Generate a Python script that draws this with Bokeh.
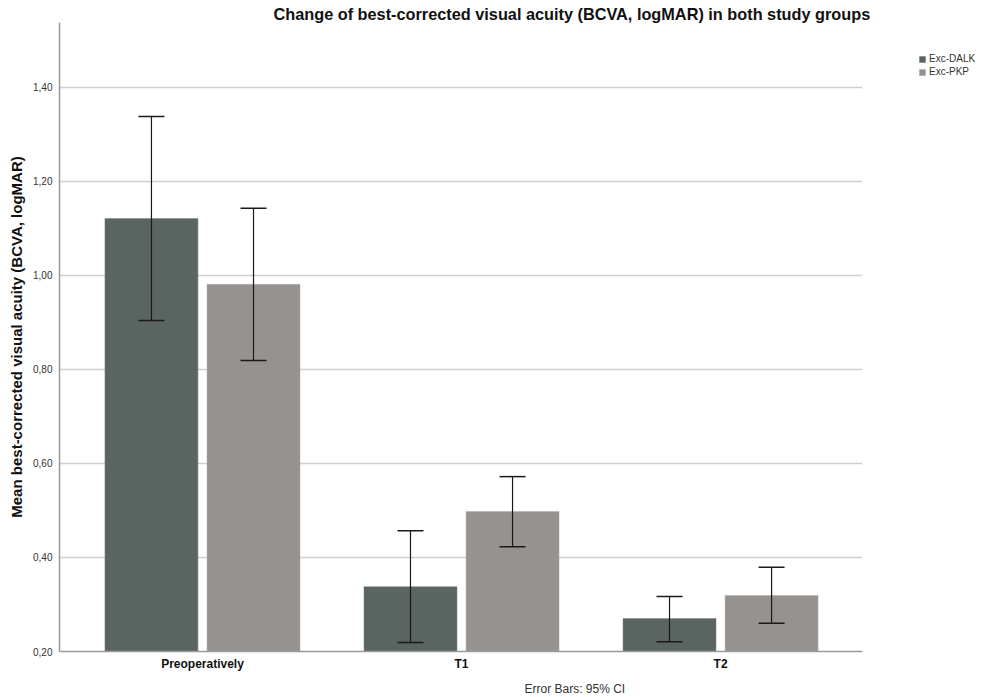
from bokeh.plotting import figure
from bokeh.layouts import row
from bokeh.models import (ColumnDataSource, Whisker, TeeHead, FixedTicker, CustomJSTickFormatter,
                          Legend, LegendItem, Title, Range1d)
from bokeh.embed import file_html
from bokeh.resources import INLINE

categories = ["Preoperatively", "T1", "T2"]
groups = ["Exc-DALK", "Exc-PKP"]
dalk_mean = [1.121, 0.338, 0.270]
dalk_lower = [0.904, 0.219, 0.221]
dalk_upper = [1.338, 0.457, 0.317]
pkp_mean = [0.981, 0.498, 0.319]
pkp_lower = [0.819, 0.423, 0.260]
pkp_upper = [1.143, 0.572, 0.379]
y_ticks = [0.2, 0.4, 0.6, 0.8, 1.0, 1.2, 1.4]

dalk_color = "#5a6460"
pkp_color = "#96928f"
FONT = "Liberation Sans"

p = figure(frame_width=803, frame_height=629, output_backend="svg", toolbar_location=None,
           x_range=Range1d(-0.552, 2.548), y_range=Range1d(0.2, 1.538),
           min_border_left=59, min_border_right=15, min_border_top=22, min_border_bottom=46)
p.outline_line_color = None
p.background_fill_color = "white"
p.title = None

idx = list(range(len(categories)))
off = 0.197
bw = 0.359
src_d = ColumnDataSource(dict(x=[i - off for i in idx], top=dalk_mean, lo=dalk_lower, hi=dalk_upper))
src_p = ColumnDataSource(dict(x=[i + off for i in idx], top=pkp_mean, lo=pkp_lower, hi=pkp_upper))

p.vbar(x="x", top="top", bottom=0.2, width=bw, source=src_d, fill_color=dalk_color,
       line_color="#7a827e", line_width=0.5)
p.vbar(x="x", top="top", bottom=0.2, width=bw, source=src_p, fill_color=pkp_color,
       line_color="#b0acaa", line_width=0.5)

for s in (src_d, src_p):
    w = Whisker(base="x", lower="lo", upper="hi", source=s, line_color="#1a1a1a", line_width=1.2,
                upper_head=TeeHead(size=26, line_color="#1a1a1a", line_width=1.5),
                lower_head=TeeHead(size=26, line_color="#1a1a1a", line_width=1.5),
                level="overlay")
    p.add_layout(w)

# axes
p.xaxis.ticker = FixedTicker(ticks=idx)
p.xaxis.major_label_overrides = {i: c for i, c in zip(idx, categories)}
p.xaxis.major_label_text_font = FONT
p.xaxis.major_label_text_font_style = "bold"
p.xaxis.major_label_text_font_size = "12px"
p.xaxis.major_label_text_color = "#111111"
p.xaxis.major_tick_line_color = None
p.xaxis.major_tick_out = 0
p.xaxis.major_tick_in = 0
p.xaxis.minor_tick_line_color = None
p.xaxis.minor_tick_out = 0
p.xaxis.axis_line_color = "#9a9a9a"
p.xaxis.axis_line_width = 1.5
p.xaxis.major_label_standoff = 5
p.xgrid.grid_line_color = None

p.yaxis.ticker = FixedTicker(ticks=y_ticks)
p.yaxis.formatter = CustomJSTickFormatter(code="return tick.toFixed(2).replace('.', ',');")
p.yaxis.major_label_text_font = FONT
p.yaxis.major_label_text_font_size = "10px"
p.yaxis.major_label_text_color = "#333333"
p.yaxis.major_tick_line_color = None
p.yaxis.major_tick_out = 0
p.yaxis.major_tick_in = 0
p.yaxis.minor_tick_line_color = None
p.yaxis.minor_tick_out = 0
p.yaxis.axis_line_color = "#9a9a9a"
p.yaxis.axis_line_width = 1.5
p.yaxis.major_label_standoff = 7
p.yaxis.axis_label = "Mean best-corrected visual acuity (BCVA, logMAR)"
p.yaxis.axis_label_text_font = FONT
p.yaxis.axis_label_text_font_style = "bold"
p.yaxis.axis_label_text_font_size = "15px"
p.yaxis.axis_label_text_color = "#111111"
p.yaxis.axis_label_standoff = 5
p.ygrid.grid_line_color = "#cfcfcf"
p.ygrid.grid_line_width = 1.5

# title (above) and note (below)
t = Title(text="Change of best-corrected visual acuity (BCVA, logMAR) in both study groups",
          text_font=FONT, text_font_style="bold", text_font_size="16.3px", text_color="#111111",
          align="left", offset=214, standoff=0)
p.add_layout(t, "above")
note = Title(text="Error Bars: 95% CI", text_font=FONT, text_font_style="normal",
             text_font_size="12px", text_color="#333333", align="left", offset=465, standoff=12)
p.add_layout(note, "below")

# legend in a narrow companion figure (proxy glyphs lie outside its visible range)
lf = figure(width=108, height=697, output_backend="svg", toolbar_location=None,
            x_axis_location=None, y_axis_location=None, min_border=0,
            x_range=Range1d(0, 1), y_range=Range1d(0, 1))
lf.outline_line_color = None
lf.grid.visible = False
g1 = lf.vbar(x=[-50], top=[-40], bottom=-41, width=1, fill_color=dalk_color, line_color=None)
g2 = lf.vbar(x=[-50], top=[-40], bottom=-41, width=1, fill_color=pkp_color, line_color=None)
legend = Legend(items=[LegendItem(label=groups[0], renderers=[g1]),
                       LegendItem(label=groups[1], renderers=[g2])],
                location=(41, 569), margin=0, padding=0, spacing=0,
                glyph_width=8, glyph_height=8, label_height=13, label_standoff=3,
                label_text_font=FONT, label_text_font_size="10px", label_text_color="#333333",
                border_line_color=None, background_fill_alpha=0)
lf.add_layout(legend)

layout = row(p, lf)
open("out.html", "w").write(file_html(layout, INLINE))
